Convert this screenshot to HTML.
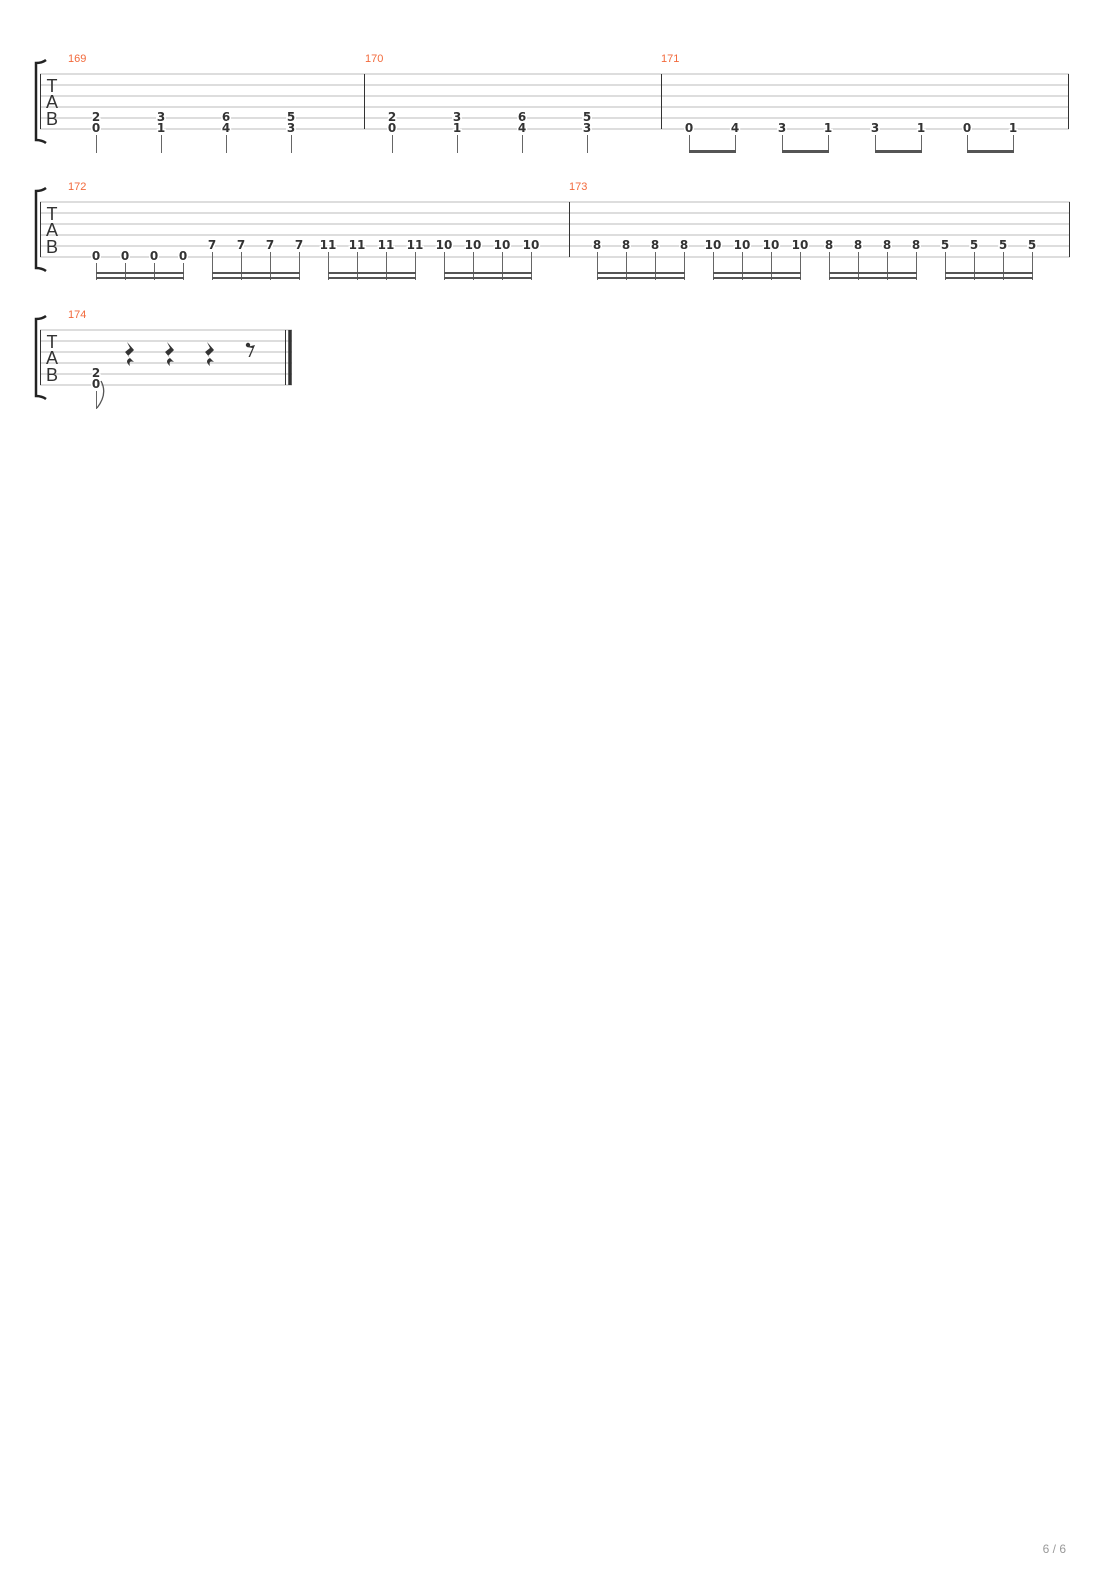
<!DOCTYPE html>
<html><head><meta charset="utf-8"><style>
body{margin:0;background:#fff}
svg{display:block}
.n{font-family:"DejaVu Sans","Liberation Sans",sans-serif;font-weight:bold;font-size:12px;fill:#333;text-anchor:middle;paint-order:stroke;stroke:#fff;stroke-width:3px}
.m{font-family:"Liberation Sans",sans-serif;font-size:11px;fill:#f26a3c}
.t{font-family:"Liberation Sans",sans-serif;font-size:18px;fill:#333;text-anchor:middle}
.st line{stroke:#bbb;stroke-width:1}
.stem{stroke:#666;stroke-width:1}
.beam{fill:#555}
</style></head><body>
<svg width="1110" height="1570" viewBox="0 0 1110 1570">
<!-- System 1 -->
<g class="st"><line x1="40" y1="74" x2="1069" y2="74"/><line x1="40" y1="85" x2="1069" y2="85"/><line x1="40" y1="96" x2="1069" y2="96"/><line x1="40" y1="107" x2="1069" y2="107"/><line x1="40" y1="118" x2="1069" y2="118"/><line x1="40" y1="129" x2="1069" y2="129"/></g>
<g stroke="#333" stroke-width="1"><line x1="40.5" y1="74" x2="40.5" y2="129"/><line x1="364.5" y1="74" x2="364.5" y2="129"/><line x1="661.5" y1="74" x2="661.5" y2="129"/><line x1="1068.5" y1="74" x2="1068.5" y2="129"/></g>
<path d="M46 60 Q42 63 36 63 L36 140 Q42 140 46 143" fill="none" stroke="#222" stroke-width="2.5"/>
<text class="t" x="52" y="92">T</text><text class="t" x="52" y="108">A</text><text class="t" x="52" y="125">B</text>
<text class="m" x="68" y="62">169</text><text class="m" x="365" y="62">170</text><text class="m" x="661" y="62">171</text>
<g class="n">
<text x="96" y="121">2</text><text x="96" y="132">0</text>
<text x="161" y="121">3</text><text x="161" y="132">1</text>
<text x="226" y="121">6</text><text x="226" y="132">4</text>
<text x="291" y="121">5</text><text x="291" y="132">3</text>
<text x="392" y="121">2</text><text x="392" y="132">0</text>
<text x="457" y="121">3</text><text x="457" y="132">1</text>
<text x="522" y="121">6</text><text x="522" y="132">4</text>
<text x="587" y="121">5</text><text x="587" y="132">3</text>
<text x="689" y="132">0</text><text x="735" y="132">4</text><text x="782" y="132">3</text><text x="828" y="132">1</text>
<text x="875" y="132">3</text><text x="921" y="132">1</text><text x="967" y="132">0</text><text x="1013" y="132">1</text>
</g>
<g class="stem">
<line x1="96.5" y1="135" x2="96.5" y2="153"/><line x1="161.5" y1="135" x2="161.5" y2="153"/><line x1="226.5" y1="135" x2="226.5" y2="153"/><line x1="291.5" y1="135" x2="291.5" y2="153"/>
<line x1="392.5" y1="135" x2="392.5" y2="153"/><line x1="457.5" y1="135" x2="457.5" y2="153"/><line x1="522.5" y1="135" x2="522.5" y2="153"/><line x1="587.5" y1="135" x2="587.5" y2="153"/>
<line x1="689.5" y1="135" x2="689.5" y2="152"/><line x1="735.5" y1="135" x2="735.5" y2="152"/><line x1="782.5" y1="135" x2="782.5" y2="152"/><line x1="828.5" y1="135" x2="828.5" y2="152"/>
<line x1="875.5" y1="135" x2="875.5" y2="152"/><line x1="921.5" y1="135" x2="921.5" y2="152"/><line x1="967.5" y1="135" x2="967.5" y2="152"/><line x1="1013.5" y1="135" x2="1013.5" y2="152"/>
</g>
<g class="beam"><rect x="689" y="150" width="47" height="3"/><rect x="782" y="150" width="47" height="3"/><rect x="875" y="150" width="47" height="3"/><rect x="967" y="150" width="47" height="3"/></g>

<!-- System 2 -->
<g class="st"><line x1="40" y1="202" x2="1070" y2="202"/><line x1="40" y1="213" x2="1070" y2="213"/><line x1="40" y1="224" x2="1070" y2="224"/><line x1="40" y1="235" x2="1070" y2="235"/><line x1="40" y1="246" x2="1070" y2="246"/><line x1="40" y1="257" x2="1070" y2="257"/></g>
<g stroke="#333" stroke-width="1"><line x1="40.5" y1="202" x2="40.5" y2="257"/><line x1="569.5" y1="202" x2="569.5" y2="257"/><line x1="1069.5" y1="202" x2="1069.5" y2="257"/></g>
<path d="M46 188 Q42 191 36 191 L36 268 Q42 268 46 271" fill="none" stroke="#222" stroke-width="2.5"/>
<text class="t" x="52" y="220">T</text><text class="t" x="52" y="236">A</text><text class="t" x="52" y="253">B</text>
<text class="m" x="68" y="190">172</text><text class="m" x="569" y="190">173</text>
<g class="n">
<text x="96" y="260">0</text><text x="125" y="260">0</text><text x="154" y="260">0</text><text x="183" y="260">0</text>
<text x="212" y="249">7</text><text x="241" y="249">7</text><text x="270" y="249">7</text><text x="299" y="249">7</text>
<text x="328" y="249">11</text><text x="357" y="249">11</text><text x="386" y="249">11</text><text x="415" y="249">11</text>
<text x="444" y="249">10</text><text x="473" y="249">10</text><text x="502" y="249">10</text><text x="531" y="249">10</text>
<text x="597" y="249">8</text><text x="626" y="249">8</text><text x="655" y="249">8</text><text x="684" y="249">8</text>
<text x="713" y="249">10</text><text x="742" y="249">10</text><text x="771" y="249">10</text><text x="800" y="249">10</text>
<text x="829" y="249">8</text><text x="858" y="249">8</text><text x="887" y="249">8</text><text x="916" y="249">8</text>
<text x="945" y="249">5</text><text x="974" y="249">5</text><text x="1003" y="249">5</text><text x="1032" y="249">5</text>
</g>
<g class="stem">
<line x1="96.5" y1="263" x2="96.5" y2="280"/><line x1="125.5" y1="263" x2="125.5" y2="280"/><line x1="154.5" y1="263" x2="154.5" y2="280"/><line x1="183.5" y1="263" x2="183.5" y2="280"/>
<line x1="212.5" y1="252" x2="212.5" y2="280"/><line x1="241.5" y1="252" x2="241.5" y2="280"/><line x1="270.5" y1="252" x2="270.5" y2="280"/><line x1="299.5" y1="252" x2="299.5" y2="280"/>
<line x1="328.5" y1="252" x2="328.5" y2="280"/><line x1="357.5" y1="252" x2="357.5" y2="280"/><line x1="386.5" y1="252" x2="386.5" y2="280"/><line x1="415.5" y1="252" x2="415.5" y2="280"/>
<line x1="444.5" y1="252" x2="444.5" y2="280"/><line x1="473.5" y1="252" x2="473.5" y2="280"/><line x1="502.5" y1="252" x2="502.5" y2="280"/><line x1="531.5" y1="252" x2="531.5" y2="280"/>
<line x1="597.5" y1="252" x2="597.5" y2="280"/><line x1="626.5" y1="252" x2="626.5" y2="280"/><line x1="655.5" y1="252" x2="655.5" y2="280"/><line x1="684.5" y1="252" x2="684.5" y2="280"/>
<line x1="713.5" y1="252" x2="713.5" y2="280"/><line x1="742.5" y1="252" x2="742.5" y2="280"/><line x1="771.5" y1="252" x2="771.5" y2="280"/><line x1="800.5" y1="252" x2="800.5" y2="280"/>
<line x1="829.5" y1="252" x2="829.5" y2="280"/><line x1="858.5" y1="252" x2="858.5" y2="280"/><line x1="887.5" y1="252" x2="887.5" y2="280"/><line x1="916.5" y1="252" x2="916.5" y2="280"/>
<line x1="945.5" y1="252" x2="945.5" y2="280"/><line x1="974.5" y1="252" x2="974.5" y2="280"/><line x1="1003.5" y1="252" x2="1003.5" y2="280"/><line x1="1032.5" y1="252" x2="1032.5" y2="280"/>
</g>
<g class="beam">
<rect x="96" y="272" width="88" height="2"/><rect x="96" y="277" width="88" height="2"/>
<rect x="212" y="272" width="88" height="2"/><rect x="212" y="277" width="88" height="2"/>
<rect x="328" y="272" width="88" height="2"/><rect x="328" y="277" width="88" height="2"/>
<rect x="444" y="272" width="88" height="2"/><rect x="444" y="277" width="88" height="2"/>
<rect x="597" y="272" width="88" height="2"/><rect x="597" y="277" width="88" height="2"/>
<rect x="713" y="272" width="88" height="2"/><rect x="713" y="277" width="88" height="2"/>
<rect x="829" y="272" width="88" height="2"/><rect x="829" y="277" width="88" height="2"/>
<rect x="945" y="272" width="88" height="2"/><rect x="945" y="277" width="88" height="2"/>
</g>

<!-- System 3 -->
<g class="st"><line x1="40" y1="330" x2="292" y2="330"/><line x1="40" y1="341" x2="292" y2="341"/><line x1="40" y1="352" x2="292" y2="352"/><line x1="40" y1="363" x2="292" y2="363"/><line x1="40" y1="374" x2="292" y2="374"/><line x1="40" y1="385" x2="292" y2="385"/></g>
<g stroke="#333"><line x1="40.5" y1="330" x2="40.5" y2="385" stroke-width="1"/><line x1="285.5" y1="330" x2="285.5" y2="385" stroke-width="1"/><line x1="290" y1="330" x2="290" y2="385" stroke-width="3.5"/></g>
<path d="M46 316 Q42 319 36 319 L36 396 Q42 396 46 399" fill="none" stroke="#222" stroke-width="2.5"/>
<text class="t" x="52" y="348">T</text><text class="t" x="52" y="364">A</text><text class="t" x="52" y="381">B</text>
<text class="m" x="68" y="318">174</text>
<g class="n"><text x="96" y="377">2</text><text x="96" y="388">0</text></g>
<line x1="96.5" y1="391" x2="96.5" y2="409" class="stem"/>
<path d="M101 381 Q108 394 97 408" fill="none" stroke="#555" stroke-width="1.3"/>
<g fill="#333">
<path d="M127 342 L134 350 L128 356 L134 362 Q128 360 130 366 Q124 361 130 358 L125 352 L130 348 Z"/>
<path d="M167 342 L174 350 L168 356 L174 362 Q168 360 170 366 Q164 361 170 358 L165 352 L170 348 Z"/>
<path d="M207 342 L214 350 L208 356 L214 362 Q208 360 210 366 Q204 361 210 358 L205 352 L210 348 Z"/>
<circle cx="248" cy="345" r="2.2"/><path d="M247 347 L255 345 L250 357 L248.5 357 L252.5 348 Z"/>
</g>

<text x="1066" y="1553" font-family="Liberation Sans,sans-serif" font-size="12" fill="#999" text-anchor="end">6 / 6</text>
</svg>
</body></html>
